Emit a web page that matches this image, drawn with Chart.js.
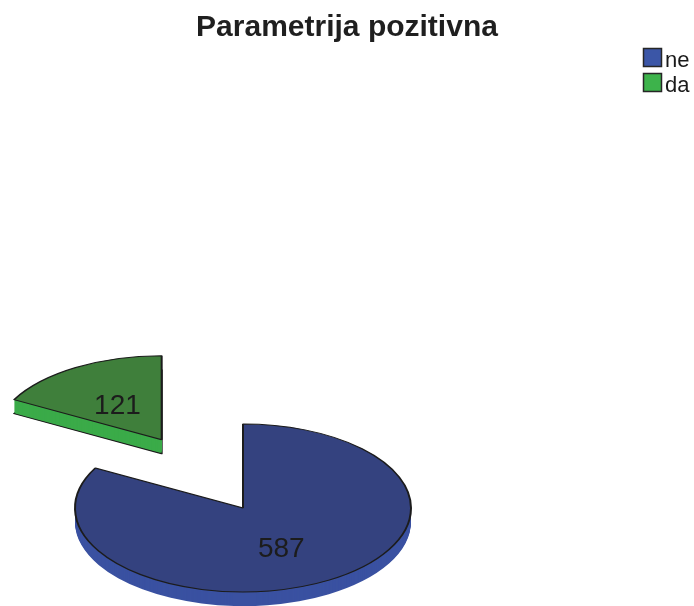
<!DOCTYPE html>
<html>
<head>
<meta charset="utf-8">
<title>Parametrija pozitivna</title>
<script src="https://cdn.jsdelivr.net/npm/chart.js@4.4.1/dist/chart.umd.min.js"></script>
<style>
    html, body { margin: 0; padding: 0; background: #fff; }
    #wrap { width: 694px; height: 606px; position: relative; }
</style>
</head>
<body>
<div id="wrap"><canvas id="chart"></canvas></div>
<script>
// Data.
const chart_title = "Parametrija pozitivna";
const categories = ["ne", "da"];
const counts = [587, 121];

// Colours: top face, side wall, legend box.
const top_colors = ["#34427f", "#3f7f3b"];
const side_colors = ["#3a51a1", "#3bab49"];
const side_borders = [null, "#1c1c1c"];
const legend_colors = ["#3b56a7", "#3db34b"];

// How far each slice is pulled out (px, before tilt).
const explode = [0, 159];

// Pie placement on the page.
const pie_cx = 243, pie_cy = 508, tilt = 0.5, depth = 14;

// Small nudges for the value labels (px).
const label_dx = [-3, -3];
const label_dy = [7, 1];

// Move the context so that arc (drawn at arc.x, arc.y) lands on the tilted pie.
function place(ctx, arc, i, d) {
    const mid = (arc.startAngle + arc.endAngle) / 2;
    const ex = Math.cos(mid) * explode[i], ey = Math.sin(mid) * explode[i];
    ctx.translate(pie_cx, pie_cy + d);
    ctx.scale(1, tilt);
    ctx.translate(-arc.x + ex, -arc.y + ey);
}

const pie3d = {
    id: "pie3d",
    beforeDatasetsDraw(chart) {
        const ctx = chart.ctx;
        const arcs = chart.getDatasetMeta(0).data;

        // Side walls: stacked copies of each slice, deepest first.
        arcs.forEach((arc, i) => {
            for (let d = depth; d > 0; d--) {
                const bw = (d == depth && side_borders[i]) ? 2 : 0;
                const side = new Chart.ArcElement({
                    x: arc.x, y: arc.y,
                    startAngle: arc.startAngle, endAngle: arc.endAngle,
                    circumference: arc.circumference,
                    innerRadius: arc.innerRadius, outerRadius: arc.outerRadius,
                    options: {
                        backgroundColor: side_colors[i],
                        borderColor: side_borders[i] || side_colors[i],
                        borderWidth: bw,
                        borderAlign: "center",
                        borderJoinStyle: "round",
                        borderRadius: 0,
                        borderDash: [],
                        borderDashOffset: 0,
                        offset: 0,
                        spacing: 0,
                        circular: true,
                    },
                });
                ctx.save();
                place(ctx, arc, i, d);
                side.draw(ctx);
                ctx.restore();
            }
        });

        // Top faces.
        arcs.forEach((arc, i) => {
            ctx.save();
            place(ctx, arc, i, 0);
            arc.draw(ctx);
            ctx.restore();
        });

        // Value labels.
        ctx.save();
        ctx.font = "28px 'Liberation Sans', Arial, sans-serif";
        ctx.fillStyle = "#1c1c1c";
        ctx.textAlign = "center";
        ctx.textBaseline = "middle";
        arcs.forEach((arc, i) => {
            const mid = (arc.startAngle + arc.endAngle) / 2;
            const r = explode[i] + arc.outerRadius * 0.48;
            const x = pie_cx + Math.cos(mid) * r;
            const y = pie_cy + Math.sin(mid) * r * tilt;
            ctx.fillText(String(counts[i]), x + label_dx[i], y + label_dy[i]);
        });
        ctx.restore();

        return false;
    },
    afterDraw(chart) {
        // Legend, top right.
        const ctx = chart.ctx;
        ctx.save();
        ctx.font = "22px 'Liberation Sans', Arial, sans-serif";
        ctx.textBaseline = "alphabetic";
        categories.forEach((c, i) => {
            const y = 48 + i * 25;
            ctx.fillStyle = legend_colors[i];
            ctx.fillRect(643, y, 18, 18);
            ctx.strokeStyle = "#262626";
            ctx.lineWidth = 1.5;
            ctx.strokeRect(643.5, y + 0.5, 18, 18);
            ctx.fillStyle = "#1a1a1a";
            ctx.fillText(c, 665, y + 19);
        });
        ctx.restore();
    },
};

const config = {
    type: "pie",
    data: {
        labels: categories,
        datasets: [{
            data: counts,
            backgroundColor: top_colors,
            borderColor: "#1c1c1c",
            borderWidth: 2,
        }],
    },
    options: {
        responsive: true,
        maintainAspectRatio: false,
        animation: false,
        events: [],
        radius: 168,
        plugins: {
            legend: { display: false },
            tooltip: { enabled: false },
            title: {
                display: true,
                text: chart_title,
                color: "#1f1f1f",
                font: { family: "'Liberation Sans', Arial, sans-serif", size: 30, weight: "bold" },
                padding: { top: 10, bottom: 10 },
            },
        },
    },
    plugins: [pie3d],
};

window.myChart = new Chart(document.getElementById("chart"), config);
</script>
</body>
</html>
